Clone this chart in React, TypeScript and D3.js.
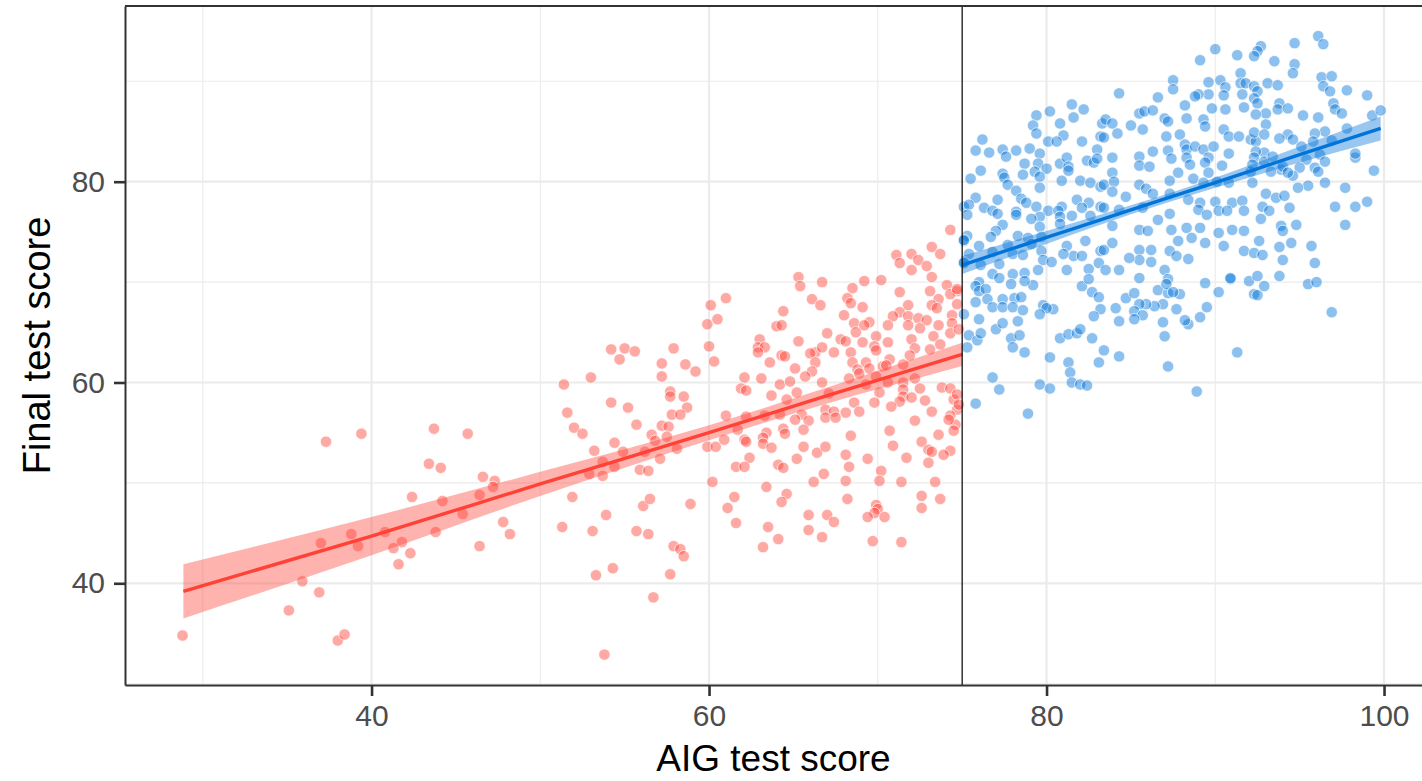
import React, { useEffect, useRef } from 'react';
import * as d3 from 'd3';

const width = 1422;
const height = 781;

const xTicks = [40, 60, 80, 100];
const xMinor = [30, 50, 70, 90];
const yTicks = [40, 60, 80];
const yMinor = [30, 50, 70, 90];
const cutoff = 75;

// [AIG score, final score]
const redScores = [
  [37.3,54.1],[39.4,54.9],[43.7,55.4],[45.7,54.9],[43.4,51.9],[44.1,51.5],[42.4,48.6],[44.2,48.2],[45.4,46.9],[43.8,45.1],
  [40.8,45.1],[38.8,44.9],[39.2,43.7],[37.0,44.0],[41.8,44.1],[41.3,43.5],[42.3,43.0],[41.6,41.9],[35.9,40.2],[36.9,39.1],
  [35.1,37.3],[38.0,34.3],[38.4,34.9],[28.8,34.8],
  [60.1,67.7],[59.9,65.8],[60.5,66.3],[60.0,63.6],[60.3,62.1],[54.2,63.3],[55.0,63.4],[55.6,63.1],[54.7,62.3],[57.9,63.4],
  [57.2,61.9],[57.2,60.6],[58.6,61.8],[59.2,61.1],[53.0,60.5],[51.4,59.8],[57.7,59.1],[57.7,58.6],[58.5,58.6],[58.7,57.5],
  [54.2,58.0],[55.2,57.5],[51.6,57.0],[57.8,56.8],[58.3,56.8],[55.7,55.8],[52.0,55.5],[52.5,54.9],[57.2,55.7],[57.6,55.6],
  [56.6,54.8],[57.5,54.6],[56.8,54.2],[54.4,54.0],[53.2,53.2],[54.9,53.1],[56.2,53.1],[58.1,53.4],[57.1,52.4],[53.7,52.1],
  [54.4,51.6],[52.9,50.9],[53.7,50.7],[55.9,51.3],[56.4,51.2],[59.9,53.6],[60.4,53.6],[60.2,50.1],[46.6,50.6],[47.3,50.2],
  [47.2,49.6],[46.4,48.8],[47.8,46.1],[48.2,44.9],[46.4,43.7],[51.9,48.6],[51.3,45.6],[53.1,45.2],[53.9,46.8],[55.7,45.2],
  [56.4,44.9],[56.1,47.7],[56.5,48.4],[58.9,47.9],[57.9,43.7],[58.3,43.4],[58.5,42.7],[57.7,40.9],[54.3,41.5],[53.3,40.8],
  [56.7,38.6],[53.8,32.9],
  [74.3,75.2],[73.2,73.5],[73.7,72.8],[71.1,72.7],[72.0,72.8],[71.3,71.9],[72.4,72.2],[72.0,71.2],[72.9,71.6],[73.2,70.5],
  [65.3,70.5],[65.4,69.6],[66.7,70.0],[69.2,70.1],[70.2,70.2],[61.0,68.4],[68.5,69.4],[68.2,68.4],[66.1,68.3],[66.6,67.7],
  [68.4,67.9],[69.1,67.5],[71.3,69.0],[73.1,69.1],[74.1,69.7],[74.7,69.1],[73.6,68.3],[74.3,68.8],[73.2,67.7],[73.5,67.4],
  [71.8,67.7],[71.3,67.0],[70.9,66.6],[64.4,67.1],[68.0,66.7],[69.5,66.0],[68.6,65.9],[69.2,65.7],[70.6,65.7],[71.8,66.6],
  [72.4,66.4],[72.9,66.2],[73.6,65.7],[74.4,66.7],[74.4,65.9],[72.5,65.4],[71.8,65.7],[64.0,65.6],[64.3,65.7],[67.0,64.9],
  [68.7,65.0],[69.9,64.6],[67.8,64.3],[68.1,64.1],[65.3,64.1],[63.0,64.3],[69.1,64.0],[70.6,64.0],[69.8,63.6],[72.0,64.3],
  [73.3,64.6],[72.2,63.4],[73.1,63.3],[73.7,63.8],[74.3,64.9],[62.9,63.5],[63.3,63.5],[62.9,63.0],[66.3,63.0],[66.0,62.9],
  [66.7,63.5],[67.4,63.0],[68.4,63.0],[69.9,63.2],[64.3,62.7],[64.5,62.6],[63.6,62.0],[66.3,62.0],[71.9,62.7],[68.5,62.0],
  [69.3,62.0],[70.7,62.3],[71.5,61.8],[65.1,61.4],[66.1,61.1],[65.7,60.6],[68.8,61.3],[69.5,61.4],[70.3,61.6],[70.5,61.7],
  [62.1,60.5],[63.1,60.4],[64.2,59.8],[64.8,60.1],[66.7,60.0],[68.3,60.4],[68.9,60.9],[69.9,60.6],[70.6,60.0],[71.5,60.0],
  [72.2,60.4],[73.8,59.5],[74.3,59.4],[61.9,59.4],[62.2,59.2],[63.7,58.7],[64.6,58.3],[65.2,59.0],[67.1,58.9],[69.3,59.8],
  [70.1,59.0],[71.5,59.3],[72.5,59.4],[71.5,58.6],[72.0,58.5],[72.8,58.2],[74.5,58.3],[74.7,57.3],[74.3,56.7],[74.6,55.8],
  [74.5,55.2],[71.3,58.1],[70.8,57.6],[69.8,58.0],[68.6,58.0],[66.9,57.3],[67.4,57.1],[68.1,57.0],[68.9,57.1],[66.9,56.5],
  [67.5,56.5],[65.5,56.8],[65.9,56.2],[65.1,56.3],[64.2,56.8],[63.3,56.7],[61.0,56.7],[62.2,56.6],[72.2,56.2],[73.2,57.1],
  [74.2,56.3],[61.7,55.3],[64.4,55.4],[64.5,54.9],[65.6,55.3],[63.4,55.0],[63.2,54.5],[62.1,54.3],[60.9,54.3],[62.2,54.1],
  [63.2,53.9],[63.7,53.5],[68.4,54.7],[70.7,55.2],[73.6,54.8],[72.6,54.1],[73.0,53.3],[73.2,53.1],[74.3,53.2],[73.9,52.8],
  [70.9,53.7],[65.6,53.6],[66.4,53.0],[66.9,53.6],[68.1,52.8],[69.4,52.4],[71.7,52.5],[73.0,52.0],[62.4,52.5],[61.6,51.6],
  [62.1,51.6],[64.1,51.8],[64.4,51.5],[65.2,52.4],[68.3,51.6],[70.2,51.2],[66.8,50.9],[66.2,50.1],[68.1,50.2],[70.1,50.2],
  [71.4,50.1],[73.4,50.1],[63.4,49.6],[64.6,48.9],[64.3,48.1],[61.5,48.6],[61.1,47.5],[61.6,46.0],[68.2,48.4],[72.6,48.7],
  [73.7,48.4],[72.6,47.5],[67.0,46.8],[67.4,46.1],[65.9,46.8],[69.9,47.8],[70.0,47.4],[69.8,47.0],[69.4,46.6],[70.4,46.6],
  [63.5,45.6],[65.9,45.3],[64.1,44.4],[63.2,43.6],[66.7,44.6],[69.7,44.2],[71.4,44.1],
  [74.7,69.3],[74.7,67.8],[74.8,65.3],[74.7,58.8],[74.8,57.8]
];

const blueScores = [
  [81.5,87.7],[80.2,87.0],[82.2,87.2],[79.4,86.6],[81.6,86.4],[79.2,85.6],[80.8,85.8],[83.3,85.8],[79.4,84.8],[81.0,84.6],
  [76.2,84.2],[80.1,84.0],[80.6,84.0],[82.1,84.0],[83.2,84.5],[75.8,83.1],[76.6,82.9],[77.4,83.2],[77.6,82.5],[78.2,83.1],
  [79.0,83.3],[79.6,82.8],[83.0,83.2],[78.7,81.8],[79.5,81.8],[80.8,81.8],[81.2,82.4],[81.3,81.5],[82.4,82.1],[82.8,81.9],
  [83.0,82.3],[80.0,81.3],[78.6,80.7],[79.3,81.0],[76.1,81.1],[75.5,80.3],[77.4,80.8],[77.5,80.4],[79.6,80.5],[80.9,80.1],
  [81.3,81.1],[82.0,80.1],[82.6,79.9],[83.2,79.5],[77.7,79.7],[78.2,79.1],[79.6,79.4],[75.8,78.4],[75.1,77.5],[75.4,77.7],
  [76.3,77.4],[76.8,77.1],[77.1,78.2],[78.5,78.3],[78.8,77.9],[79.4,77.5],[80.9,77.5],[81.8,78.2],[82.5,77.9],[83.2,77.5],
  [82.1,77.4],[75.3,76.7],[77.1,76.8],[78.2,77.0],[80.1,77.1],[80.7,77.1],[79.6,76.5],[79.1,76.3],[78.2,76.7],[80.8,76.5],
  [81.5,76.6],[82.6,76.6],[80.8,75.8],[77.4,75.7],[79.6,75.5],[75.3,74.6],[77.0,75.1],[76.7,74.5],[78.3,74.6],[78.9,74.4],
  [79.7,74.5],[79.1,73.8],[77.7,73.7],[76.0,73.6],[75.1,74.1],[82.3,74.1],[81.2,73.6],[81.6,72.6],[81.0,72.8],[83.2,73.1],
  [82.1,72.6],[79.7,73.1],[76.8,73.0],[78.0,72.8],[78.6,72.7],[75.4,72.8],[79.8,72.2],[80.3,72.0],[75.1,72.0],[76.1,71.7],
  [77.2,71.8],[81.2,71.2],[82.5,71.3],[83.1,71.9],[79.5,71.2],[78.7,70.9],[76.8,70.8],[78.0,70.8],[77.2,70.4],[82.1,69.6],
  [82.5,70.3],[76.0,70.0],[75.8,69.6],[79.2,69.7],[78.7,70.1],[77.9,69.8],[76.0,69.1],[76.4,69.3],[82.7,69.0],[83.1,68.5],
  [76.5,68.3],[77.4,68.3],[78.1,68.4],[78.5,68.5],[75.8,68.0],[76.8,67.5],[77.4,67.5],[78.0,67.5],[78.6,67.2],[79.8,67.7],
  [80.4,67.3],[80.0,67.4],[83.2,67.3],[82.8,66.6],[79.6,66.8],[75.1,66.8],[76.0,66.3],[77.0,65.3],[77.4,65.9],[78.3,66.1],
  [75.4,64.7],[75.9,64.2],[75.3,63.5],[77.9,64.4],[78.4,64.7],[78.0,63.5],[78.7,63.0],[76.1,64.9],[80.8,64.4],[81.3,64.8],
  [81.8,64.9],[82.0,65.3],[82.7,64.4],[80.2,62.5],[81.3,62.0],[81.4,61.0],[81.5,60.0],[82.0,59.8],[82.4,59.7],[83.1,62.0],
  [76.8,60.5],[77.2,59.3],[79.6,59.8],[80.2,59.4],[75.8,57.9],[78.9,56.9],[75.1,74.2],[75.1,71.9],
  [91.3,63.0],[87.2,61.6],[88.9,59.1],[87.0,64.6],[86.9,66.0],[88.4,65.8],[89.1,66.5],[89.5,67.5],[88.2,66.2],[87.7,67.3],
  [86.9,67.8],[86.4,67.6],[85.9,67.8],[85.5,67.8],[85.2,67.1],[85.7,66.7],[85.2,66.3],[84.3,66.1],[84.1,67.4],[84.7,68.4],
  [85.2,68.9],[86.6,69.2],[87.2,68.9],[87.9,68.8],[89.4,69.9],[90.2,69.0],[90.9,70.3],[92.0,70.1],[92.3,68.8],[83.4,63.2],
  [84.3,62.6],[96.9,67.0],
  [90.0,93.2],[91.3,92.6],[89.1,92.1],[87.5,90.1],[87.5,89.2],[89.6,89.9],[90.3,90.1],[91.5,90.8],[91.5,89.8],[91.8,89.8],
  [90.6,89.4],[90.5,88.6],[91.6,88.7],[89.6,88.7],[89.0,88.7],[88.8,88.5],[84.3,88.8],[86.6,88.4],[88.2,87.6],[89.8,87.3],
  [90.6,87.2],[91.7,87.4],[85.5,86.8],[85.8,87.0],[86.3,87.1],[87.0,86.3],[88.3,86.3],[89.3,86.2],[89.4,85.5],[83.5,86.2],
  [83.9,85.8],[85.0,85.6],[85.7,85.2],[87.2,86.0],[84.2,84.8],[83.4,84.4],[87.1,84.5],[87.9,84.7],[88.2,83.7],[90.5,85.2],
  [90.8,84.5],[91.4,84.5],[92.1,84.2],[86.3,83.0],[87.2,83.1],[88.3,83.2],[88.8,83.5],[89.3,83.2],[89.9,83.5],[85.5,82.5],
  [83.9,82.4],[87.4,82.3],[88.3,82.4],[89.6,82.4],[90.8,82.8],[89.4,81.9],[88.5,81.7],[90.4,81.6],[85.5,81.6],[86.1,81.5],
  [83.9,80.9],[87.8,80.9],[89.6,80.9],[92.1,81.0],[83.4,79.7],[84.0,80.0],[85.5,79.7],[85.9,79.3],[87.3,80.1],[88.7,80.3],
  [89.3,79.9],[90.1,80.0],[90.8,79.9],[83.9,79.0],[84.7,78.5],[86.3,78.8],[87.3,78.8],[88.4,78.2],[89.1,77.9],[90.0,78.0],
  [91.0,77.9],[91.6,78.1],[83.4,77.4],[84.3,77.2],[85.7,77.4],[86.6,76.2],[87.3,76.8],[89.0,77.2],[89.5,76.7],[90.2,77.1],
  [90.7,77.1],[91.7,77.1],[83.9,75.6],[85.5,75.2],[86.0,75.1],[87.4,75.2],[88.3,75.4],[89.1,75.4],[89.4,73.9],[88.6,74.4],
  [87.8,74.1],[90.2,74.9],[91.0,75.2],[91.7,75.1],[90.5,73.6],[91.7,73.1],[83.4,73.2],[83.9,73.9],[85.5,73.2],[86.2,73.2],
  [87.3,73.1],[87.7,72.6],[88.4,72.3],[85.5,72.2],[84.9,72.4],[86.2,72.0],[83.5,71.2],[84.3,71.2],[85.5,70.4],[87.0,71.2],
  [87.2,70.3],[87.1,69.8],[87.5,69.0],[90.9,70.4],
  [96.1,94.5],[96.4,93.7],[94.7,93.8],[92.7,93.5],[92.5,93.0],[92.3,92.5],[93.5,92.0],[94.7,91.7],[94.6,90.8],[96.3,90.4],
  [96.9,90.5],[96.4,89.5],[96.8,89.0],[97.8,89.1],[99.0,88.6],[93.1,89.8],[93.7,89.6],[92.3,89.5],[92.5,89.0],[92.3,88.3],
  [92.5,87.8],[93.8,87.8],[93.7,87.2],[94.3,87.3],[93.0,86.8],[95.2,86.6],[96.1,86.4],[97.0,87.8],[97.1,87.2],[97.5,86.8],
  [99.3,86.6],[99.8,87.1],[97.8,85.3],[98.3,82.4],[98.3,82.8],[99.4,81.1],[96.5,85.0],[95.9,84.8],[94.3,84.7],[94.6,84.2],
  [93.8,84.3],[95.8,84.0],[95.1,83.5],[96.9,84.1],[96.2,82.7],[96.5,82.0],[95.4,82.2],[95.9,81.4],[95.0,81.4],[96.1,81.0],
  [94.6,80.6],[93.9,81.2],[93.3,81.0],[92.9,82.9],[92.4,84.0],[93.0,85.7],[92.4,86.7],[96.5,79.9],[95.5,79.6],[94.9,79.4],
  [97.7,79.4],[97.1,77.5],[98.3,77.5],[99.0,78.0],[97.7,75.7],[93.0,78.8],[93.6,78.4],[94.1,78.6],[94.4,77.4],[92.8,77.5],
  [93.2,77.1],[94.8,75.7],[92.7,76.3],[93.9,75.6],[94.0,75.1],[92.6,74.1],[94.5,73.9],[95.7,73.6],[93.8,73.5],[92.3,72.9],
  [92.8,72.7],[94.0,72.2],[95.9,71.9],[92.5,70.6],[93.8,70.6],[95.5,69.8],[96.0,70.0],[92.9,69.6],[92.5,68.7],[92.3,84.9],
  [92.9,84.7],[92.4,83.0],[92.3,82.4],[92.9,82.0],[93.4,82.5],[92.2,81.7],[92.2,79.9],[94.0,81.5],[94.3,80.9]
];

// fitted lines and their confidence bands
const redFitX = [28.85, 40, 50, 60, 67, 75];
const redFitY = [39.2, 44.7, 49.9, 55.0, 58.7, 62.8];
const redFitLo = [36.5, 42.8, 48.7, 54.25, 57.9, 61.65];
const redFitHi = [41.9, 46.6, 51.1, 55.75, 59.5, 63.95];

const blueFitX = [75, 80, 85, 90, 95, 99.8];
const blueFitY = [71.7, 74.45, 77.2, 79.9, 82.7, 85.3];
const blueFitLo = [70.8, 73.8, 76.75, 79.4, 81.9, 84.1];
const blueFitHi = [72.6, 75.1, 77.65, 80.4, 83.5, 86.5];

const red = '#FF4136';
const blue = '#0074D9';

function Chart() {
  const node = useRef<SVGSVGElement | null>(null);

  useEffect(() => {
    const svg = d3.select(node.current);
    svg.selectAll('*').remove();

    const left = 125, right = 1422, top = 6, bottom = 685;
    const x = d3.scaleLinear().domain([25.39, 102.25]).range([left, right]);
    const y = d3.scaleLinear().domain([29.87, 97.5]).range([bottom, top]);

    const grid = svg.append('g');
    grid.selectAll('.xminor').data(xMinor).enter().append('line')
      .attr('x1', d => x(d)).attr('x2', d => x(d)).attr('y1', top).attr('y2', bottom)
      .attr('stroke', '#EBEBEB').attr('stroke-width', 1.1);
    grid.selectAll('.yminor').data(yMinor.filter(d => y(d) < bottom && y(d) > top)).enter().append('line')
      .attr('x1', left).attr('x2', right).attr('y1', d => y(d)).attr('y2', d => y(d))
      .attr('stroke', '#EBEBEB').attr('stroke-width', 1.1);
    grid.selectAll('.xmajor').data(xTicks).enter().append('line')
      .attr('x1', d => x(d)).attr('x2', d => x(d)).attr('y1', top).attr('y2', bottom)
      .attr('stroke', '#EBEBEB').attr('stroke-width', 2.2);
    grid.selectAll('.ymajor').data(yTicks).enter().append('line')
      .attr('x1', left).attr('x2', right).attr('y1', d => y(d)).attr('y2', d => y(d))
      .attr('stroke', '#EBEBEB').attr('stroke-width', 2.2);

    const drawPoints = (data: number[][], color: string) => {
      svg.append('g').selectAll('circle').data(data).enter().append('circle')
        .attr('cx', d => x(d[0])).attr('cy', d => y(d[1])).attr('r', 5.7)
        .attr('fill', color).attr('fill-opacity', 0.45)
        .attr('stroke', '#ffffff').attr('stroke-width', 0.7);
    };
    drawPoints(redScores, red);
    drawPoints(blueScores, blue);

    const drawFit = (fx: number[], fy: number[], lo: number[], hi: number[], color: string) => {
      const idx = d3.range(fx.length);
      const area = d3.area<number>()
        .x(i => x(fx[i])).y0(i => y(lo[i])).y1(i => y(hi[i]))
        .curve(d3.curveMonotoneX);
      const line = d3.line<number>()
        .x(i => x(fx[i])).y(i => y(fy[i]))
        .curve(d3.curveMonotoneX);
      svg.append('path').datum(idx).attr('d', area)
        .attr('fill', color).attr('fill-opacity', 0.4);
      svg.append('path').datum(idx).attr('d', line)
        .attr('fill', 'none').attr('stroke', color).attr('stroke-width', 3.4);
    };
    drawFit(redFitX, redFitY, redFitLo, redFitHi, red);
    drawFit(blueFitX, blueFitY, blueFitLo, blueFitHi, blue);

    svg.append('line')
      .attr('x1', x(cutoff)).attr('x2', x(cutoff)).attr('y1', top).attr('y2', bottom)
      .attr('stroke', '#000').attr('stroke-width', 1.2);

    const font = '"Liberation Sans", Arial, sans-serif';

    const yAxis = svg.append('g').attr('transform', `translate(${left},0)`)
      .call(d3.axisLeft(y).tickValues(yTicks).tickSize(11).tickSizeOuter(0).tickPadding(9));
    const xAxis = svg.append('g').attr('transform', `translate(0,${bottom})`)
      .call(d3.axisBottom(x).tickValues(xTicks).tickSize(11).tickSizeOuter(0).tickPadding(9));

    [yAxis, xAxis].forEach(ax => {
      ax.select('.domain').attr('stroke', '#333333').attr('stroke-width', 2);
      ax.selectAll('.tick line').attr('stroke', '#333333').attr('stroke-width', 2.6);
      ax.selectAll('.tick text').attr('fill', '#4D4D4D')
        .style('font-family', font).style('font-size', '30px');
    });

    svg.append('line')
      .attr('x1', left).attr('x2', right).attr('y1', top).attr('y2', top)
      .attr('stroke', '#333333').attr('stroke-width', 2);

    svg.append('text')
      .attr('x', (left + right) / 2).attr('y', 771)
      .attr('text-anchor', 'middle')
      .style('font-family', font).style('font-size', '37px')
      .text('AIG test score');

    svg.append('text')
      .attr('transform', `translate(50,${(top + bottom) / 2}) rotate(-90)`)
      .attr('text-anchor', 'middle')
      .style('font-family', font).style('font-size', '38px')
      .text('Final test score');
  }, []);

  return (
    <svg ref={node} width={width} height={height}
      style={{ position: 'absolute', left: 0, top: 0, background: '#fff' }} />
  );
}

export default function App() {
  return <Chart />;
}
